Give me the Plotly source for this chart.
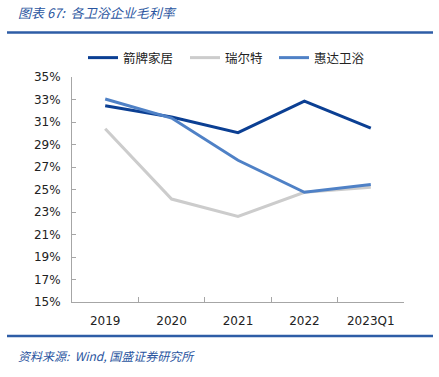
import plotly.graph_objects as go

categories = ["2019", "2020", "2021", "2022", "2023Q1"]
jianpai = [32.45, 31.45, 30.05, 32.85, 30.45]
ruierte = [30.4, 24.15, 22.6, 24.75, 25.2]
huida = [33.05, 31.35, 27.6, 24.75, 25.45]
series_names = ["箭牌家居", "瑞尔特", "惠达卫浴"]
colors = ["#0B3F93", "#CCCCCC", "#4F81C6"]

W, H = 439, 377
L, R, T, B = 72, 404, 77, 302

def px(x):
    return (x - L) / (R - L)

def py(y):
    return (B - y) / (B - T)

legend_ids = ["legend", "legend2", "legend3"]
legend_x = [83, 185, 274]

fig = go.Figure()
for name, vals, c, lid in zip(series_names, [jianpai, ruierte, huida], colors, legend_ids):
    fig.add_trace(go.Scatter(x=categories, y=vals, name=name, mode="lines",
                             line=dict(color=c, width=3), legend=lid))

font_cjk = "Noto Sans CJK SC, Noto Sans, sans-serif"
legend_common = dict(orientation="h", xref="container", yref="container",
                     y=1 - 58 / H, xanchor="left", yanchor="middle",
                     font=dict(family=font_cjk, size=12.5, color="#222222"),
                     itemwidth=30, bgcolor="rgba(0,0,0,0)")
legends = {lid: dict(legend_common, x=lx / W) for lid, lx in zip(legend_ids, legend_x)}

fig.update_layout(
    width=W, height=H,
    margin=dict(l=L, r=W - R, t=T, b=H - B, pad=0, autoexpand=False),
    paper_bgcolor="white", plot_bgcolor="white",
    font=dict(family="DejaVu Sans, Noto Sans CJK SC", size=12, color="#222222"),
    showlegend=True,
    xaxis=dict(type="category", showline=True, linecolor="#A6A6A6", linewidth=1,
               ticks="inside", tickson="boundaries", ticklen=5, tickcolor="#A6A6A6",
               showgrid=False, zeroline=False, tickfont=dict(size=12, color="#222222"),
               range=[-0.5, 4.5], automargin=False, ticklabelstandoff=8),
    yaxis=dict(range=[15, 35], dtick=2, tick0=15, ticksuffix="%", showline=True,
               linecolor="#A6A6A6", linewidth=1, ticks="inside", ticklen=4,
               tickcolor="#A6A6A6", showgrid=False, zeroline=False,
               tickfont=dict(size=12, color="#222222"), automargin=False,
               ticklabelstandoff=8),
    **legends,
)

fig.add_annotation(text="图表 67:  各卫浴企业毛利率", xref="paper", yref="paper",
                   x=px(16), y=py(13), xanchor="left", yanchor="middle", showarrow=False,
                   font=dict(family=font_cjk, size=13, color="#2A55A0", style="italic"))
fig.add_annotation(text="资料来源:  Wind, 国盛证券研究所", xref="paper", yref="paper",
                   x=px(16), y=py(355), xanchor="left", yanchor="middle", showarrow=False,
                   font=dict(family=font_cjk, size=12, color="#2A55A0", style="italic"))
for yy in (32.5, 336):
    fig.add_shape(type="line", xref="paper", yref="paper", x0=px(7), x1=px(433),
                  y0=py(yy), y1=py(yy), line=dict(color="#2E5DA6", width=2.5))

fig.write_html("out.html", config={"displayModeBar": False},
               post_script="document.body.style.margin='0';document.body.style.overflow='hidden';")
